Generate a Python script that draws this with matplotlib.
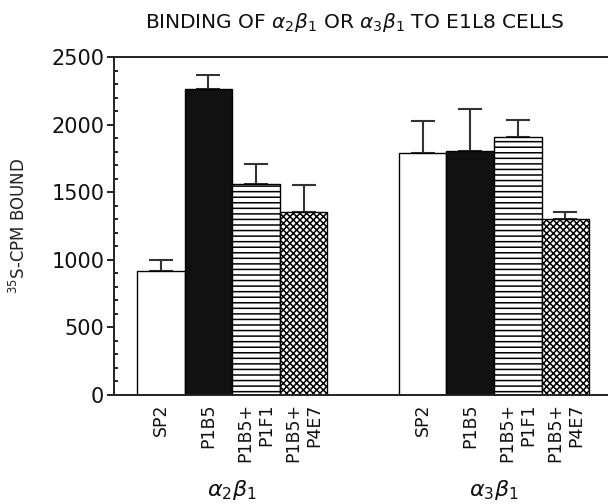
import matplotlib
matplotlib.use("Agg")
import matplotlib.pyplot as plt
from matplotlib.ticker import MultipleLocator

plt.rcParams['font.family'] = ['DejaVu Sans']
plt.rcParams['hatch.linewidth'] = 1.1

groups = [r'$\alpha_2\beta_1$', r'$\alpha_3\beta_1$']
treatments = ['SP2', 'P1B5', 'P1B5+\nP1F1', 'P1B5+\nP4E7']
values_a2b1 = [915, 2265, 1560, 1355]
errors_a2b1 = [80, 100, 150, 200]
values_a3b1 = [1790, 1805, 1910, 1305]
errors_a3b1 = [240, 310, 125, 50]

fills = ['white', '#111111', 'white', 'white']
hatches = [None, None, '---', 'xxxxx']

fig = plt.figure(figsize=(6.10, 5.04), dpi=100)
ax = fig.add_axes([0.187, 0.2163, 0.808, 0.6706])

group_starts = [0.0, 5.5]
all_vals = [values_a2b1, values_a3b1]
all_errs = [errors_a2b1, errors_a3b1]
tick_pos, tick_lab = [], []
for g, start in enumerate(group_starts):
    xs = [start + i for i in range(len(treatments))]
    for i, x in enumerate(xs):
        ax.bar(x, all_vals[g][i], width=1.0, color=fills[i], edgecolor='black',
               linewidth=1.0, hatch=hatches[i], zorder=2)
    ax.errorbar(xs, all_vals[g], yerr=[[0]*4, all_errs[g]], fmt='none',
                ecolor='#333333', elinewidth=1.5, capsize=8.5, capthick=1.5, zorder=1)
    tick_pos += xs
    tick_lab += treatments
    ax.text(start + 1.5, -0.28, groups[g], transform=ax.get_xaxis_transform(),
            ha='center', va='center', fontsize=16, color='#111111')

ax.set_xlim(-0.983, 9.374)
ax.set_ylim(0, 2500)
ax.set_xticks(tick_pos)
ax.set_xticklabels(tick_lab, rotation=90, fontsize=12.5, ha='center', va='top',
                   multialignment='right', color='#111111')
ax.tick_params(axis='x', length=0, pad=6)
ax.yaxis.set_major_locator(MultipleLocator(500))
ax.yaxis.set_minor_locator(MultipleLocator(100))
ax.tick_params(axis='y', which='major', direction='out', length=5, width=1.3,
               labelsize=15, colors='#111111', pad=2)
ax.tick_params(axis='y', which='minor', direction='in', length=3, width=1.2)
ax.spines['right'].set_visible(False)
for s in ['left', 'top', 'bottom']:
    ax.spines[s].set_linewidth(1.4)
    ax.spines[s].set_color('#222222')

ax.set_ylabel(r'$^{35}$S-CPM BOUND', fontsize=12, color='#222222', labelpad=16)
fig.text(0.582, 0.955, r'BINDING OF $\alpha_2\beta_1$ OR $\alpha_3\beta_1$ TO E1L8 CELLS',
         ha='center', va='center', fontsize=14.5, color='#111111')

fig.savefig('out.png', dpi=100)
